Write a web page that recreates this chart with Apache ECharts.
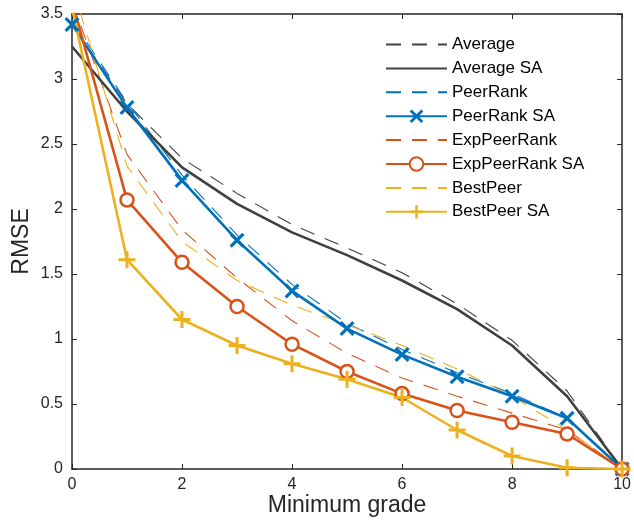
<!DOCTYPE html>
<html>
<head>
<meta charset="utf-8">
<script src="https://cdn.jsdelivr.net/npm/echarts@6/dist/echarts.min.js"></script>
<style>
html,body{margin:0;padding:0;background:#fff;}
#chart{width:634px;height:522px;}
</style>
</head>
<body>
<div id="chart"></div>
<script>
// minimum grade 0..10
var grades = [0, 1, 2, 3, 4, 5, 6, 7, 8, 9, 10];
var yTicks = [0, 0.5, 1, 1.5, 2, 2.5, 3, 3.5];

var average       = [3.42, 2.81, 2.39, 2.12, 1.88, 1.70, 1.51, 1.27, 0.99, 0.60, 0];
var averageSA     = [3.25, 2.75, 2.32, 2.04, 1.82, 1.645, 1.45, 1.23, 0.95, 0.56, 0];
var peerRank      = [3.45, 2.82, 2.26, 1.80, 1.42, 1.12, 0.92, 0.74, 0.58, 0.39, 0];
var peerRankSA    = [3.42, 2.78, 2.22, 1.76, 1.37, 1.08, 0.88, 0.71, 0.56, 0.39, 0];
var expPeerRank   = [3.60, 2.42, 1.84, 1.47, 1.14, 0.89, 0.70, 0.56, 0.43, 0.30, 0];
var expPeerRankSA = [3.60, 2.07, 1.59, 1.25, 0.96, 0.75, 0.58, 0.45, 0.36, 0.27, 0];
var bestPeer      = [3.72, 2.33, 1.75, 1.45, 1.26, 1.11, 0.95, 0.77, 0.56, 0.30, 0];
var bestPeerSA    = [3.55, 1.61, 1.15, 0.95, 0.81, 0.69, 0.55, 0.30, 0.10, 0.01, 0];

var GRAY = '#404040', BLUE = '#0072BD', ORANGE = '#D95319', YELLOW = '#EDB120';
var DASH = [15, 11];
var AX = '#262626';
var FONT = 'Liberation Sans, Arial, Helvetica, sans-serif';

var xMark = 'path://M0,1.5L1.5,0L5,3.5L8.5,0L10,1.5L6.5,5L10,8.5L8.5,10L5,6.5L1.5,10L0,8.5L3.5,5Z';
var plusMark = 'path://M4.1,0H5.9V4.1H10V5.9H5.9V10H4.1V5.9H0V4.1H4.1Z';

function pairs(arr){
    var out = [];
    for (var i = 0; i < grades.length; i++) {
        out.push([grades[i], arr[i]]);
    }
    return out;
}

function dashed(name, color, data){
    return {
        name: name, type: 'line', data: pairs(data),
        symbol: 'none', clip: true, z: 2,
        lineStyle: {color: color, width: 1.1, type: DASH},
        itemStyle: {color: color}
    };
}

function solid(name, color, data, symbol, size, extra){
    return {
        name: name, type: 'line', data: pairs(data),
        symbol: symbol, symbolSize: size, showSymbol: symbol !== 'none', clip: true, z: 3,
        lineStyle: {color: color, width: 2.6},
        itemStyle: extra || {color: color}
    };
}

// legend rows: hide the marker for plain lines
var legendNames = ['Average', 'Average SA', 'PeerRank', 'PeerRank SA', 'ExpPeerRank', 'ExpPeerRank SA', 'BestPeer', 'BestPeer SA'];
var legendData = legendNames.map(function(n){
    if (n.indexOf(' SA') < 0 || n === 'Average SA') {
        return {name: n, itemStyle: {opacity: 0}};
    }
    return {name: n};
});

var myChart = echarts.init(document.getElementById('chart'), null, {renderer: 'canvas'});

myChart.setOption({
    animation: false,
    backgroundColor: '#fff',
    textStyle: {fontFamily: FONT},
    grid: {left: 72, right: 6, top: 14, bottom: 50, containLabel: false},
    legend: {
        orient: 'vertical',
        left: 385, top: 36, padding: 0,
        itemWidth: 61, itemHeight: 17, itemGap: 6.9,
        textStyle: {fontSize: 17, color: '#000', fontFamily: FONT, lineHeight: 17},
        data: legendData
    },
    xAxis: [{
        type: 'value', min: 0, max: 10, interval: 2,
        name: 'Minimum grade', nameLocation: 'middle', nameGap: 25, nameMoveOverlap: false,
        nameTextStyle: {fontSize: 23, color: AX, fontFamily: FONT},
        axisLine: {onZero: false, lineStyle: {color: AX, width: 1.5}},
        axisTick: {inside: true, length: 5, lineStyle: {color: AX, width: 1}},
        axisLabel: {fontSize: 16, color: AX, margin: 8},
        splitLine: {show: false}
    }, {
        type: 'value', min: 0, max: 10, interval: 2, position: 'top',
        axisLine: {onZero: false, lineStyle: {color: AX, width: 1.5}},
        axisTick: {inside: true, length: 5, lineStyle: {color: AX, width: 1}},
        axisLabel: {show: false},
        splitLine: {show: false}
    }],
    yAxis: [{
        type: 'value', min: 0, max: 3.5, interval: 0.5,
        name: 'RMSE', nameLocation: 'middle', nameGap: 39, nameMoveOverlap: false,
        nameTextStyle: {fontSize: 23, color: AX, fontFamily: FONT},
        axisLine: {show: true, onZero: false, lineStyle: {color: AX, width: 1.5}},
        axisTick: {show: true, inside: true, length: 5, lineStyle: {color: AX, width: 1}},
        axisLabel: {fontSize: 16, color: AX, margin: 9, formatter: function(v){ return yTicks.indexOf(v) >= 0 ? String(v) : ''; }},
        splitLine: {show: false}
    }, {
        type: 'value', min: 0, max: 3.5, interval: 0.5, position: 'right',
        axisLine: {show: true, onZero: false, lineStyle: {color: AX, width: 1.5}},
        axisTick: {show: true, inside: true, length: 5, lineStyle: {color: AX, width: 1}},
        axisLabel: {show: false},
        splitLine: {show: false}
    }],
    series: [
        dashed('Average', GRAY, average),
        solid('Average SA', GRAY, averageSA, 'none', 0),
        dashed('PeerRank', BLUE, peerRank),
        solid('PeerRank SA', BLUE, peerRankSA, xMark, 15, {color: BLUE}),
        dashed('ExpPeerRank', ORANGE, expPeerRank),
        solid('ExpPeerRank SA', ORANGE, expPeerRankSA, 'circle', 13, {color: '#fff', borderColor: ORANGE, borderWidth: 2.5}),
        dashed('BestPeer', YELLOW, bestPeer),
        solid('BestPeer SA', YELLOW, bestPeerSA, plusMark, 17, {color: YELLOW})
    ]
});
</script>
</body>
</html>
